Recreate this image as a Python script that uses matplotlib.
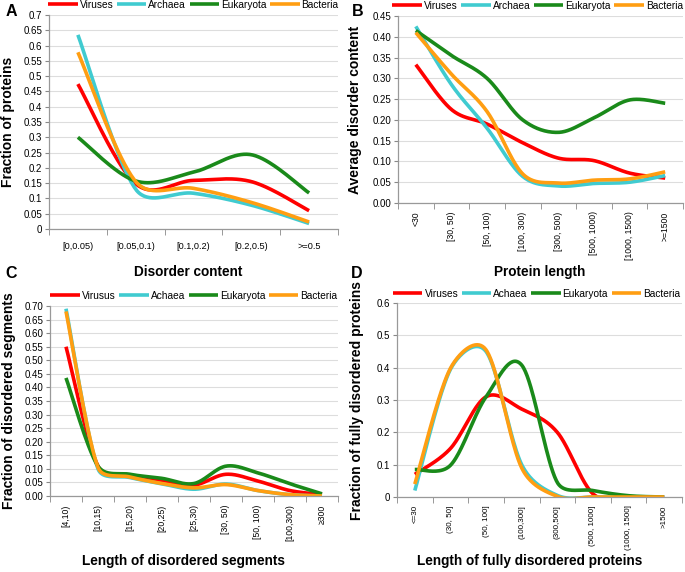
import numpy as np
import matplotlib
matplotlib.use("Agg")
import matplotlib.pyplot as plt
from matplotlib.ticker import FixedLocator, FuncFormatter

plt.rcParams['font.family'] = ['Liberation Sans', 'DejaVu Sans']

# ---------------- data ----------------
cats_a = ["[0,0.05)", "[0.05,0.1)", "[0.1,0.2)", "[0.2,0.5)", ">=0.5"]
a_viruses = [0.474, 0.148, 0.159, 0.155, 0.060]
a_archaea = [0.635, 0.130, 0.117, 0.078, 0.018]
a_eukaryota = [0.300, 0.157, 0.186, 0.243, 0.118]
a_bacteria = [0.578, 0.155, 0.133, 0.087, 0.023]

cats_b = ["<30", "[30, 50)", "[50, 100)", "[100, 300)", "[300, 500)",
          "[500, 1000)", "[1000, 1500)", ">=1500"]
b_viruses = [0.333, 0.225, 0.190, 0.145, 0.108, 0.102, 0.072, 0.060]
b_archaea = [0.425, 0.285, 0.180, 0.064, 0.041, 0.047, 0.050, 0.066]
b_eukaryota = [0.415, 0.355, 0.300, 0.200, 0.170, 0.205, 0.248, 0.240]
b_bacteria = [0.410, 0.310, 0.220, 0.070, 0.048, 0.055, 0.058, 0.075]

cats_c = ["[4,10)", "[10,15)", "[15,20)", "[20,25)", "[25,30)", "[30, 50)",
          "[50, 100)", "[100,300)", "\u2265300"]
c_viruses = [0.550, 0.110, 0.075, 0.055, 0.040, 0.080, 0.055, 0.020, 0.005]
c_archaea = [0.690, 0.100, 0.068, 0.045, 0.025, 0.044, 0.020, 0.005, 0.000]
c_eukaryota = [0.435, 0.110, 0.080, 0.065, 0.046, 0.110, 0.085, 0.045, 0.008]
c_bacteria = [0.680, 0.105, 0.070, 0.046, 0.030, 0.042, 0.020, 0.005, 0.000]

cats_d = ["<=30", "(30, 50]", "(50, 100]", "(100,300]", "(300,500]",
          "(500, 1000]", "(1000, 1500]", ">1500"]
d_viruses = [0.070, 0.150, 0.310, 0.272, 0.200, 0.010, 0.000, 0.000]
d_archaea = [0.020, 0.395, 0.450, 0.100, 0.005, 0.000, 0.000, 0.000]
d_eukaryota = [0.085, 0.098, 0.310, 0.408, 0.045, 0.020, 0.004, 0.000]
d_bacteria = [0.040, 0.398, 0.455, 0.090, 0.002, 0.000, 0.000, 0.000]

legend_ab = ["Viruses", "Archaea", "Eukaryota", "Bacteria"]
legend_c = ["Virusus", "Achaea", "Eukaryota", "Bacteria"]
legend_d = ["Viruses", "Achaea", "Eukaryota", "Bacteria"]

colors = ["#ff0000", "#40cbd0", "#1a8a1a", "#ff9e12"]

W, H = 685, 572
XSQ = 1 / 1.4   # horizontal squeeze of the original drawing space


def smooth(y, sx, sy, n=40):
    """Excel-like smoothed line: Bezier with limited control points,
    computed in screen space (sx px per category, sy px per unit)."""
    y = np.asarray(y, float)
    P = np.column_stack([np.arange(len(y)) * sx * XSQ, y * sy])
    m = len(P)
    t = np.linspace(0, 1, n)
    out = []
    for i in range(m - 1):
        p1, p2 = P[i], P[i + 1]
        p0 = P[i - 1] if i > 0 else P[i]
        p3 = P[i + 2] if i + 2 < m else P[i + 1]
        d02 = np.hypot(*(p2 - p0))
        d12 = np.hypot(*(p2 - p1))
        d13 = np.hypot(*(p3 - p1))
        f1 = 1 / 6 if d02 / 6 < d12 / 2 else d12 / (2 * d02)
        f2 = 1 / 6 if d13 / 6 < d12 / 2 else d12 / (2 * d13)
        c1 = p1 + f1 * (p2 - p0)
        c2 = p2 - f2 * (p3 - p1)
        seg = ((1 - t) ** 3)[:, None] * p1 + (3 * (1 - t) ** 2 * t)[:, None] * c1 \
            + (3 * (1 - t) * t ** 2)[:, None] * c2 + (t ** 3)[:, None] * p2
        out.append(seg if i == 0 else seg[1:])
    s = np.vstack(out)
    return s[:, 0] / (sx * XSQ), s[:, 1] / sy


fig = plt.figure(figsize=(W / 100, H / 100), dpi=100)


def px_axes(l, r, t, b):
    ax = fig.add_axes([l / W, 1 - b / H, (r - l) / W, (b - t) / H])
    ax._pxw, ax._pxh = r - l, b - t
    return ax


def draw(ax, cats, series, labels, ymax, ystep, rot, leg_dy, rot_fs=6.2):
    n = len(cats)
    sx = ax._pxw / n
    sy = ax._pxh / ymax
    for ys, c, lab in zip(series, colors, labels):
        xs, yy = smooth(ys, sx, sy)
        ax.plot(xs, yy, color=c, lw=2.6, solid_capstyle='butt', label=lab)
    ax.set_xlim(-0.5, n - 0.5)
    ax.set_ylim(0, ymax)
    ticks = np.round(np.arange(0, ymax + ystep / 2, ystep), 4)
    ax.set_yticks(ticks)
    ax.set_xticks(range(n))
    if rot:
        ax.set_xticklabels(cats, rotation=90, fontsize=rot_fs)
        ax.tick_params(axis='x', which='major', length=0, pad=6)
    else:
        ax.set_xticklabels(cats, fontsize=6.6)
        ax.tick_params(axis='x', which='major', length=0, pad=9)
    ax.xaxis.set_minor_locator(FixedLocator(np.arange(-0.5, n, 1.0)))
    ax.tick_params(axis='x', which='minor', length=4, color='#888888')
    ax.tick_params(axis='y', length=3, color='#888888', labelsize=7, pad=2)
    ax.grid(axis='y', color='#dddddd', lw=0.8)
    ax.set_axisbelow(True)
    for s in ['top', 'right']:
        ax.spines[s].set_visible(False)
    for s in ['left', 'bottom']:
        ax.spines[s].set_color('#999999')
        ax.spines[s].set_linewidth(0.9)
    ax.legend(loc='center', bbox_to_anchor=(0.5, 1 + leg_dy), ncol=4, frameon=False,
              fontsize=7.3, handlelength=2.9, handletextpad=0.2, columnspacing=0.35,
              borderaxespad=0, borderpad=0)


axA = px_axes(49, 338, 15, 229)
draw(axA, cats_a, [a_viruses, a_archaea, a_eukaryota, a_bacteria], legend_ab,
     0.7, 0.05, False, 10 / 214)
axA.yaxis.set_major_formatter(FuncFormatter(lambda v, p: "%g" % round(v, 2)))

axB = px_axes(398, 683, 16, 203)
draw(axB, cats_b, [b_viruses, b_archaea, b_eukaryota, b_bacteria], legend_ab,
     0.45, 0.05, True, 10 / 187)
axB.yaxis.set_major_formatter(FuncFormatter(lambda v, p: "%.2f" % v))
axB.get_legend().set_bbox_to_anchor((0.49, 1 + 10 / 187))

axC = px_axes(50, 338, 306, 496)
draw(axC, cats_c, [c_viruses, c_archaea, c_eukaryota, c_bacteria], legend_c,
     0.70, 0.05, True, 10 / 190)
axC.yaxis.set_major_formatter(FuncFormatter(lambda v, p: "%.2f" % v))

axD = px_axes(397, 682, 303, 497)
draw(axD, cats_d, [d_viruses, d_archaea, d_eukaryota, d_bacteria], legend_d,
     0.6, 0.1, True, 9 / 194, rot_fs=5.8)
axD.yaxis.set_major_formatter(FuncFormatter(lambda v, p: "%g" % round(v, 2)))
axD.get_legend().set_bbox_to_anchor((0.49, 1 + 9 / 194))

# y labels
ylab_kw = dict(fontsize=10, fontweight='bold', rotation=90, ha='center', va='center')
fig.text(8 / W, 1 - 122 / H, "Fraction of proteins", **ylab_kw)
fig.text(355 / W, 1 - 110 / H, "Average disorder content", **ylab_kw)
fig.text(9 / W, 1 - 401 / H, "Fraction of disordered segments", **ylab_kw)
fig.text(357 / W, 1 - 400 / H, "Fraction of fully disordered proteins", **ylab_kw)

# x labels
xlab_kw = dict(fontsize=9.8, fontweight='bold', ha='center', va='center')
fig.text(188 / W, 1 - 272 / H, "Disorder content", **xlab_kw)
fig.text(540 / W, 1 - 272 / H, "Protein length", **xlab_kw)
fig.text(183 / W, 1 - 561 / H, "Length of disordered segments", **xlab_kw)
fig.text(530 / W, 1 - 561 / H, "Length of fully disordered proteins", **xlab_kw)

# panel letters
let_kw = dict(fontsize=11.5, fontweight='bold', ha='center', va='center')
fig.text(11 / W, 1 - 12 / H, "A", **let_kw)
fig.text(358 / W, 1 - 12 / H, "B", **let_kw)
fig.text(11 / W, 1 - 274 / H, "C", **let_kw)
fig.text(357 / W, 1 - 274 / H, "D", **let_kw)

fig.savefig("out.png", dpi=100)
